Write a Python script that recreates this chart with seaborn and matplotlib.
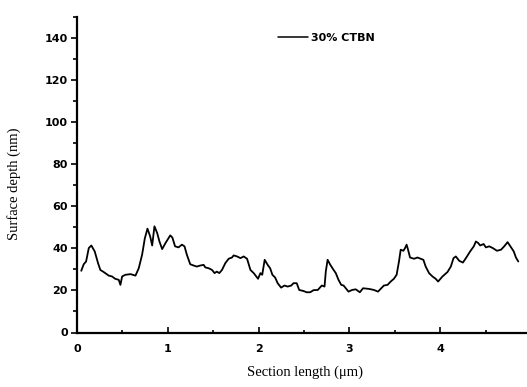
#!/usr/bin/env python3
from matplotlib import pyplot as plt
from matplotlib.ticker import MultipleLocator
import pandas
import seaborn

# section profile
section_um = [0.047, 0.074, 0.10, 0.13, 0.158, 0.195, 0.232, 0.257, 0.294, 0.35,
	0.386, 0.42, 0.46, 0.478, 0.497, 0.533, 0.59, 0.644, 0.68, 0.717,
	0.747, 0.776, 0.806, 0.828, 0.853, 0.883, 0.908, 0.938, 0.975, 1.027,
	1.05, 1.08, 1.118, 1.155, 1.184, 1.21, 1.247, 1.284, 1.32, 1.358,
	1.395, 1.413, 1.45, 1.487, 1.515, 1.54, 1.567, 1.597, 1.633, 1.67,
	1.707, 1.725, 1.763, 1.80, 1.836, 1.873, 1.91, 1.946, 1.994, 2.02,
	2.04, 2.067, 2.10, 2.127, 2.152, 2.182, 2.21, 2.248, 2.285, 2.32,
	2.36, 2.384, 2.42, 2.447, 2.494, 2.53, 2.568, 2.605, 2.652, 2.696,
	2.726, 2.74, 2.76, 2.79, 2.826, 2.85, 2.88, 2.91, 2.936, 2.96,
	2.99, 3.03, 3.07, 3.115, 3.15, 3.215, 3.27, 3.315, 3.344, 3.38,
	3.42, 3.455, 3.49, 3.52, 3.546, 3.565, 3.595, 3.613, 3.63, 3.646,
	3.668, 3.712, 3.75, 3.786, 3.815, 3.84, 3.877, 3.915, 3.95, 3.977,
	4.025, 4.08, 4.117, 4.147, 4.172, 4.21, 4.25, 4.283, 4.33, 4.37,
	4.393, 4.418, 4.44, 4.478, 4.503, 4.54, 4.578, 4.625, 4.67, 4.705,
	4.742, 4.78, 4.81, 4.834, 4.86]
depth_nm = [29.3, 32.4, 33.7, 40.1, 41.3, 38.5, 32.9, 29.7, 28.7, 27.0,
	26.6, 25.5, 25.0, 22.6, 26.6, 27.4, 27.7, 27.0, 30.5, 36.9,
	44.7, 49.3, 45.6, 41.3, 50.4, 47.2, 43.2, 39.6, 42.5, 46.1,
	45.1, 40.9, 40.4, 41.7, 40.9, 36.9, 32.4, 31.8, 31.3, 31.8,
	32.1, 30.9, 30.5, 29.7, 28.2, 28.9, 28.2, 29.7, 32.9, 35.0,
	35.6, 36.6, 36.1, 35.3, 36.1, 35.0, 29.7, 28.2, 25.5, 28.2,
	27.4, 34.5, 32.1, 30.5, 27.4, 26.1, 23.4, 21.3, 22.3, 21.8,
	22.3, 23.4, 23.4, 20.2, 19.7, 19.1, 19.1, 20.1, 20.2, 22.3,
	21.8, 28.9, 34.5, 32.1, 29.7, 28.2, 25.0, 22.6, 22.3, 21.0,
	19.4, 20.2, 20.5, 19.1, 21.0, 20.7, 20.2, 19.4, 20.7, 22.3,
	22.6, 24.2, 25.5, 27.4, 33.7, 39.3, 38.8, 40.1, 41.7, 39.3,
	35.6, 35.0, 35.6, 35.0, 34.5, 31.3, 28.2, 26.6, 25.5, 24.2,
	26.6, 28.7, 31.3, 35.3, 36.1, 34.0, 33.2, 35.3, 38.5, 40.9,
	43.2, 42.5, 41.3, 42.0, 40.4, 40.9, 40.1, 38.8, 39.3, 40.9,
	42.9, 40.4, 38.5, 35.6, 33.7]
series_label = "30% CTBN"

seaborn.set_style("ticks")
plt.rcParams['font.family'] = ['DejaVu Sans']
for key in ('text.color', 'axes.labelcolor', 'xtick.color', 'ytick.color', 'axes.edgecolor'):
	plt.rcParams[key] = 'black'

W, H = 527, 387
fig = plt.figure(figsize=(W / 100, H / 100), dpi=100)
# axes run past the right edge, like the scan where the "5" is cut
ax = fig.add_axes([77 / W, (H - 332.5) / H, 454 / W, 316 / H])

df = pandas.DataFrame({'x': section_um, 'y': depth_nm})
seaborn.lineplot(df, x='x', y='y', color='black', linewidth=1.3,
	estimator=None, label=series_label, ax=ax)

ax.set_xlim(0, 5)
ax.set_ylim(0, 150)
seaborn.despine(ax=ax)
for s in ('left', 'bottom'):
	ax.spines[s].set_linewidth(1.6)
	ax.spines[s].set_color('black')

ax.xaxis.set_major_locator(MultipleLocator(1))
ax.xaxis.set_minor_locator(MultipleLocator(0.5))
ax.yaxis.set_major_locator(MultipleLocator(20))
ax.yaxis.set_minor_locator(MultipleLocator(10))
ax.tick_params(axis='x', which='major', direction='in', length=4, width=1.2, pad=8, labelsize=8)
ax.tick_params(axis='x', which='minor', direction='in', length=2.5, width=1.2)
ax.tick_params(axis='y', which='major', direction='out', length=4.5, width=1.2, pad=2, labelsize=8)
ax.tick_params(axis='y', which='minor', direction='out', length=3, width=1.2)
for lab in ax.get_xticklabels() + ax.get_yticklabels():
	lab.set_fontweight('bold')

ax.set_xlabel("Section length (\u03bcm)", family='Liberation Serif', fontsize=10.5)
ax.set_ylabel("Surface depth (nm)", family='Liberation Serif', fontsize=10.5)
ax.xaxis.set_label_coords(228 / 454, -(366 - 332.5) / 316)
ax.yaxis.set_label_coords(-(77 - 21) / 454, (332.5 - 184) / 316)

leg = ax.legend(loc='center left', bbox_to_anchor=(278 / W, 1 - 38 / H), bbox_transform=fig.transFigure,
	frameon=False, borderpad=0, borderaxespad=0, handlelength=2.7, handletextpad=0.3,
	prop={'size': 8, 'weight': 'bold'})
for line in leg.get_lines():
	line.set_linewidth(1.1)

fig.savefig("out.png", dpi=100)
